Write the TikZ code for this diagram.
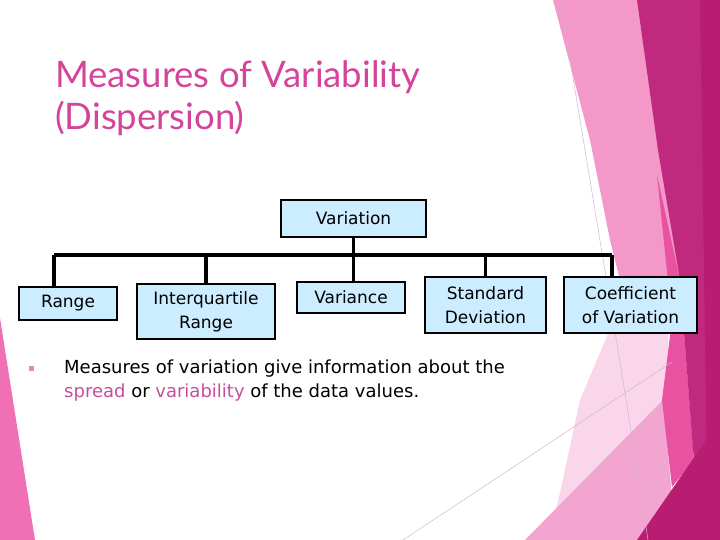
\documentclass[tikz,border=0pt]{standalone}
\usepackage{fontspec}
\setmainfont{DejaVu Sans}
\newfontfamily\titlefont{Lato}
\usetikzlibrary{positioning}

\definecolor{boxblue}{RGB}{204,236,255}
\definecolor{titlepink}{RGB}{212,68,154}
\definecolor{markpink}{RGB}{200,76,154}
\definecolor{bulletpink}{RGB}{232,138,163}
\definecolor{leftpink}{RGB}{239,112,180}
\definecolor{palepink}{RGB}{249,214,233}
\definecolor{bandpink}{RGB}{243,152,200}
\definecolor{midpink}{RGB}{241,165,208}
\definecolor{hotpink}{RGB}{232,82,160}
\definecolor{darkmag}{RGB}{191,42,127}
\definecolor{deepmag}{RGB}{184,29,114}
\definecolor{thinline}{RGB}{214,180,210}

\begin{document}
\begin{tikzpicture}[
    x=1pt, y=-1pt,
    every node/.style={inner sep=0pt},
    box/.style={
        draw,
        line width=2pt,
        fill=boxblue,
        align=center,
        font=\fontsize{17}{24}\selectfont
    },
    link/.style={line width=3.2pt}
]
\useasboundingbox (0,0) rectangle (720,540);

% background
\fill[leftpink] (0,318) -- (35,540) -- (0,540) -- cycle;
\fill[bandpink] (553,0) -- (700,0) -- (700,340) -- (650,330) -- (625,300)
    -- (610,240) -- (590,140) -- cycle;
\fill[palepink] (618,310) -- (668,320) -- (668,540) -- (548,540) -- (560,493)
    -- (580,400) -- cycle;
\fill[midpink] (525,540) -- (663,400) -- (676,540) -- cycle;
\fill[hotpink] (657,175) -- (680,280) -- (694,460) -- (672,487) -- (662,400)
    -- (672,320) -- cycle;
\fill[darkmag] (637,0) -- (720,0) -- (720,540) -- (697,480) -- (693,450)
    -- (680,280) -- (658,150) -- cycle;
\fill[deepmag] (700,0) -- (720,0) -- (720,540) -- (708,540) -- cycle;
\fill[deepmag] (637,540) -- (720,420) -- (720,540) -- cycle;
\draw[thinline, line width=0.5pt] (560,0) .. controls (600,240) and (630,420) .. (648,540);
\draw[thinline, line width=0.5pt] (403,540) -- (672,362);

% title
\node[anchor=base west, align=left, text=titlepink,
      font=\titlefont\fontsize{36.5}{42}\selectfont] (title) at (55,130)
    {Measures of Variability\\(Dispersion)};

% boxes
\node[box, minimum width=145, minimum height=37] (variation) at (353.5,218.5) {Variation};
\node[box, minimum width=98,  minimum height=33] (range)     at (68,303.5)    {Range};
\node[box, minimum width=138, minimum height=55] (iqr)       at (206,311.5)   {Interquartile\\Range};
\node[box, minimum width=108, minimum height=31] (variance)  at (351,297.5)   {Variance};
\node[box, minimum width=121, minimum height=56] (stddev)    at (485.5,305)   {Standard\\Deviation};
\node[box, minimum width=133, minimum height=56] (coeffvar)  at (630.5,305)   {Coefficient\\of Variation};

% tree lines
\coordinate (busL) at (54,255);
\coordinate (busR) at (612,255);
\draw[link] (busL) -- (busR);
\draw[link] (variation.south) -- (variation.south |- variance.north);
\draw[link] (busL) -- (busL |- range.north);
\draw[link] (iqr.north |- busL) -- (iqr.north);
\draw[link] (stddev.north |- busL) -- (stddev.north);
\draw[link] (busR) -- (busR |- coeffvar.north);

% bullet text
\node[fill=bulletpink, minimum size=5pt] (bulletmark) at (31,368) {};
\node[anchor=base west, align=left, font=\fontsize{18}{24}\selectfont] (note) at (64,397)
    {Measures of variation give information about the\\
     \textcolor{markpink}{spread} or \textcolor{markpink}{variability} of the data values.};
\end{tikzpicture}
\end{document}
